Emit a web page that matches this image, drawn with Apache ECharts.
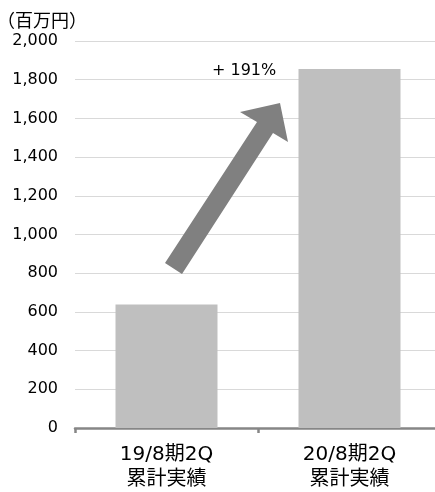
<!DOCTYPE html>
<html>
<head>
<meta charset="utf-8">
<script src="https://cdn.jsdelivr.net/npm/echarts@6/dist/echarts.min.js"></script>
<style>
  html, body { margin: 0; padding: 0; background: #fff; overflow: hidden; }
  #wrap { width: 435px; height: 492px; overflow: hidden; }
  #chart { width: 441px; height: 492px; }
</style>
</head>
<body>
<div id="wrap"><div id="chart"></div></div>
<script>
// Cumulative results (unit: million yen)
const categories = ['19/8期2Q\n累計実績', '20/8期2Q\n累計実績'];
const salesValues = [638, 1855];
const unitLabel = '（百万円）';
const growthLabel = '+ 191%';
const yTicks = { min: 0, max: 2000, interval: 200 };

const chart = echarts.init(document.getElementById('chart'), null, { renderer: 'canvas' });

const option = {
  animation: false,
  backgroundColor: '#ffffff',
  grid: { left: 75, right: 0, top: 41, bottom: 61, containLabel: false },
  xAxis: {
    type: 'category',
    data: categories,
    axisLine: { show: true, lineStyle: { color: '#868686', width: 2.5 } },
    axisTick: { show: true, length: 5, lineStyle: { color: '#868686', width: 2.5 } },
    axisLabel: {
      margin: 14,
      fontFamily: '"DejaVu Sans", "Noto Sans CJK JP"',
      fontSize: 20,
      lineHeight: 25,
      color: '#000'
    }
  },
  yAxis: {
    type: 'value',
    min: yTicks.min,
    max: yTicks.max,
    interval: yTicks.interval,
    axisLine: { show: false },
    axisTick: { show: false },
    axisLabel: {
      margin: 17,
      fontFamily: 'DejaVu Sans',
      fontSize: 16,
      color: '#000',
      formatter: v => v.toLocaleString('en-US')
    },
    splitLine: { lineStyle: { color: '#d9d9d9', width: 1 } }
  },
  series: [{
    type: 'bar',
    data: salesValues,
    barWidth: 102,
    itemStyle: { color: '#bfbfbf' },
    silent: true
  }],
  graphic: [
    {
      // unit caption above the value axis
      type: 'text',
      x: -3,
      y: 20,
      style: {
        text: unitLabel,
        font: '18px "Noto Sans CJK JP"',
        fill: '#000',
        verticalAlign: 'middle',
        align: 'left'
      }
    },
    {
      // growth arrow between the two periods
      type: 'polygon',
      shape: {
        points: [[165, 263], [257, 122], [240, 112], [280, 103], [288, 142], [273, 133], [182, 274]]
      },
      style: { fill: '#808080' },
      z: 10
    },
    {
      type: 'text',
      x: 212,
      y: 71,
      style: {
        text: growthLabel,
        font: '16px "DejaVu Sans"',
        fill: '#000',
        verticalAlign: 'middle',
        align: 'left'
      },
      z: 10
    }
  ]
};

chart.setOption(option);
</script>
</body>
</html>
